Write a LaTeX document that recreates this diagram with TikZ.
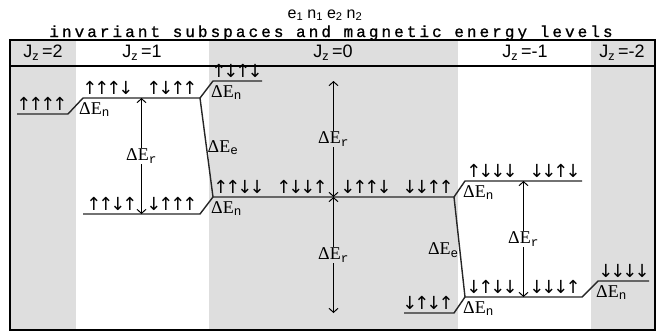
\documentclass[tikz,border=0pt]{standalone}
\usepackage{fontspec}
\setmainfont{Liberation Serif}
\newfontfamily\monofont[LetterSpace=19,FakeBold=1]{Liberation Mono}
\newfontfamily\subfont{Liberation Mono}
\newfontfamily\sansfont{Liberation Sans}
\newfontfamily\arrowfont[LetterSpace=-17]{DejaVu Sans}
\usetikzlibrary{arrows.meta, calc}
\definecolor{ColGray}{RGB}{222,222,222}
\newcommand{\dE}[1]{ΔE\textsubscript{\subfont #1}}

\begin{document}
\begin{tikzpicture}[x=1pt, y=-1pt,
    level/.style={line width=1.4pt, black!85},
    spins/.style={anchor=south, inner sep=1pt, font=\arrowfont\fontsize{18}{18}\selectfont},
    gapE/.style={inner sep=1pt, font=\fontsize{18}{18}\selectfont},
    hdr/.style={inner sep=0pt, font=\sansfont\fontsize{18}{18}\selectfont},
    erarrow/.style={line width=1pt, {Straight Barb[length=4pt,width=9pt]}-{Straight Barb[length=4pt,width=9pt]}}]
    \useasboundingbox (0,0) rectangle (664,333);

    % Spalten
    \fill[ColGray] (10,40) rectangle (76,330);
    \fill[ColGray] (209,40) rectangle (458,330);
    \fill[ColGray] (591,40) rectangle (655,330);
    \draw[line width=1.3pt] (10,40) rectangle (655,330);
    \draw[line width=1.3pt] (10,66) -- (655,66);

    % Titel
    \node[anchor=base, inner sep=0pt, font=\sansfont\fontsize{16}{16}\selectfont] (ops) at (325,18)
        {e\textsubscript{1}\hspace{4pt}n\textsubscript{1}\hspace{4pt}e\textsubscript{2}\hspace{4pt}n\textsubscript{2}};
    \node[anchor=base, inner sep=0pt, font=\monofont\fontsize{16}{16}\selectfont] (title) at (331,37)
        {invariant subspaces and magnetic energy levels};

    % Kopfzeile
    \node[hdr] (jz2) at (43,53) {J\textsubscript{z}\,=2};
    \node[hdr] (jz1) at (142,53) {J\textsubscript{z}\,=1};
    \node[hdr] (jz0) at (333,53) {J\textsubscript{z}\,=0};
    \node[hdr] (jzm1) at (525,53) {J\textsubscript{z}\,=-1};
    \node[hdr] (jzm2) at (622,53) {J\textsubscript{z}\,=-2};

    % Niveaus
    \coordinate (a2l) at (17,114);  \coordinate (a2r) at (68,114);
    \coordinate (b1l) at (83,98);   \coordinate (b1r) at (200,98);
    \coordinate (c1l) at (83,214);  \coordinate (c1r) at (200,214);
    \coordinate (t0l) at (213,81);  \coordinate (t0r) at (262,81);
    \coordinate (m0l) at (213,197); \coordinate (m0r) at (454,197);
    \coordinate (l0l) at (404,313); \coordinate (l0r) at (454,313);
    \coordinate (u1l) at (465,181); \coordinate (u1r) at (582,181);
    \coordinate (d1l) at (465,297); \coordinate (d1r) at (582,297);
    \coordinate (n2l) at (598,281); \coordinate (n2r) at (649,281);

    \draw[level] (a2l) -- (a2r) -- (b1l) -- (b1r) -- (t0l) -- (t0r);
    \draw[level] (b1r) -- (m0l);
    \draw[level] (c1l) -- (c1r) -- (m0l) -- (m0r) -- (u1l) -- (u1r);
    \draw[level] (m0r) -- (d1l);
    \draw[level] (l0l) -- (l0r) -- (d1l) -- (d1r) -- (n2l) -- (n2r);

    % Spins
    \node[spins] (s2) at (42,112) {↑↑↑↑};
    \node[spins] (s1a) at (108,96) {↑↑↑↓};
    \node[spins] (s1b) at (172,96) {↑↓↑↑};
    \node[spins] (s1c) at (112,212) {↑↑↓↑};
    \node[spins] (s1d) at (172,212) {↓↑↑↑};
    \node[spins] (s0a) at (237,79) {↑↓↑↓};
    \node[spins] (s0b) at (239,195) {↑↑↓↓};
    \node[spins] (s0c) at (302,195) {↑↓↓↑};
    \node[spins] (s0d) at (366,195) {↓↑↑↓};
    \node[spins] (s0e) at (428,195) {↓↓↑↑};
    \node[spins] (s0f) at (428,311) {↓↑↓↑};
    \node[spins] (sm1a) at (492,179) {↑↓↓↓};
    \node[spins] (sm1b) at (555,179) {↓↓↑↓};
    \node[spins] (sm1c) at (492,295) {↓↑↓↓};
    \node[spins] (sm1d) at (555,295) {↓↓↓↑};
    \node[spins] (sm2) at (624,279) {↓↓↓↓};

    % Zeeman
    \node[gapE, anchor=north west] (en1) at ([xshift=-5pt,yshift=-3pt]b1l) {\dE{n}};
    \node[gapE, anchor=north west] (en2) at ([xshift=-3pt,yshift=-3pt]t0l) {\dE{n}};
    \node[gapE, anchor=north west] (en3) at ([xshift=-3pt,yshift=-3pt]m0l) {\dE{n}};
    \node[gapE, anchor=north west] (en4) at ([xshift=-3pt,yshift=-3pt]u1l) {\dE{n}};
    \node[gapE, anchor=north west] (en5) at ([xshift=-3pt,yshift=-3pt]d1l) {\dE{n}};
    \node[gapE, anchor=north west] (en6) at ([xshift=-3pt,yshift=-3pt]n2l) {\dE{n}};

    % Austausch
    \path (b1r) -- node[gapE, anchor=west, pos=.5] (ee1) {\dE{e}} (m0l);
    \path (m0r) -- node[gapE, anchor=east, pos=.53] (ee2) {\dE{e}} (d1l);

    % Rotation
    \coordinate (r1t) at ($(b1l)!.5!(b1r)$);
    \coordinate (r1b) at ($(c1l)!.5!(c1r)$);
    \coordinate (r0m) at ($(m0l)!.5!(m0r)$);
    \coordinate (r0t) at (r0m |- t0l);
    \coordinate (r0b) at (r0m |- l0l);
    \coordinate (rm1t) at ($(u1l)!.5!(u1r)$);
    \coordinate (rm1b) at ($(d1l)!.5!(d1r)$);
    \draw[erarrow] (r1t) -- node[gapE, fill=white] (er1) {\dE{r}} (r1b);
    \draw[erarrow] (r0t) -- node[gapE, fill=ColGray] (er0a) {\dE{r}} (r0m);
    \draw[erarrow] (r0m) -- node[gapE, fill=ColGray] (er0b) {\dE{r}} (r0b);
    \draw[erarrow] (rm1t) -- node[gapE, fill=white] (erm1) {\dE{r}} (rm1b);
\end{tikzpicture}
\end{document}
